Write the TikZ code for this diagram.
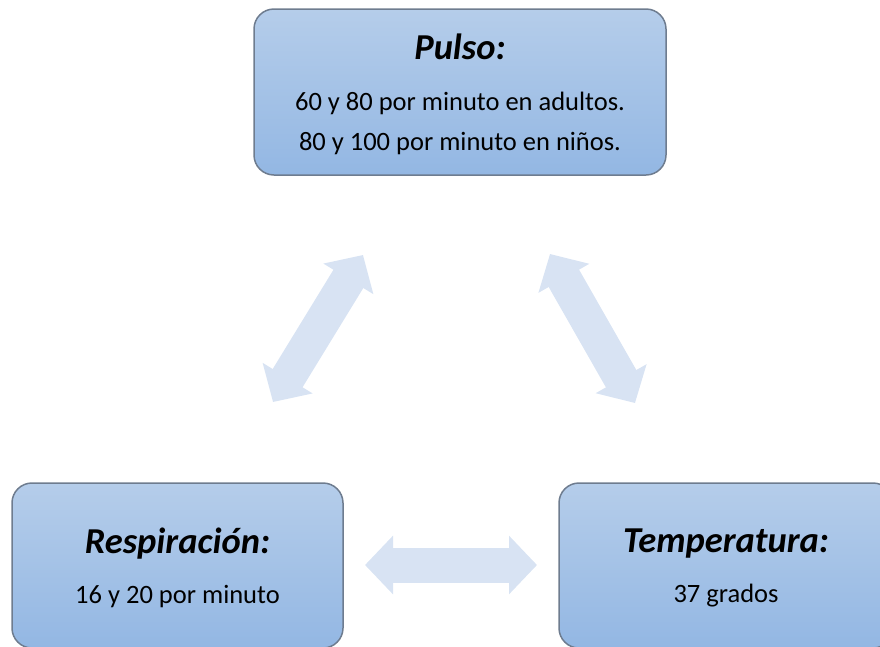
\documentclass[tikz,border=0pt]{standalone}
\usepackage{fontspec}
\setmainfont{Carlito}
\usepackage{tikz}
\usetikzlibrary{arrows.meta, positioning}
\definecolor{boxtop}{RGB}{181,205,234}
\definecolor{boxbottom}{RGB}{147,183,227}
\definecolor{boxborder}{RGB}{110,124,143}
\definecolor{arrowcolor}{RGB}{216,227,243}
\newcommand{\titlefont}{\fontsize{36.5}{40}\selectfont\bfseries\itshape}
\newcommand{\bodyfont}{\fontsize{26.5}{40}\selectfont}

\begin{document}
\begin{tikzpicture}[
    x=1pt, y=-1pt,
    vitalbox/.style={draw=boxborder, line width=1.5pt, rounded corners=20pt, top color=boxtop, bottom color=boxbottom, align=center, text depth=0pt, font=\bodyfont},
    blockarrow/.style={draw=arrowcolor, line width=35pt, {Triangle[width=57pt, length=28pt]}-{Triangle[width=57pt, length=28pt]}}
]
    \clip (0,0) rectangle (880,646);
    % Vital signs
    \node[vitalbox, minimum width=412pt, minimum height=166pt] (pulso) at (460,92) {{\titlefont Pulso:}\\[11pt]60 y 80 por minuto en adultos.\\80 y 100 por minuto en niños.};
    \node[vitalbox, minimum width=331pt, minimum height=165pt] (respiracion) at (177.5,565.5) {{\titlefont Respiración:}\\[10pt]16 y 20 por minuto};
    \node[vitalbox, minimum width=334pt, minimum height=165pt] (temperatura) at (726,565.5) {{\titlefont Temperatura:}\\[10pt]37 grados};
    
    % Arrow ends
    \coordinate (pr1) at (363,255);
    \coordinate (pr2) at (273,402);
    \coordinate (pt1) at (550,254);
    \coordinate (pt2) at (635,403);
    \coordinate (rt1) at (365,565);
    \coordinate (rt2) at (537,565);
    
    % Arrows
    \draw[blockarrow] (pr1) -- (pr2);
    \draw[blockarrow] (pt1) -- (pt2);
    \draw[blockarrow] (rt1) -- (rt2);
\end{tikzpicture}
\end{document}
